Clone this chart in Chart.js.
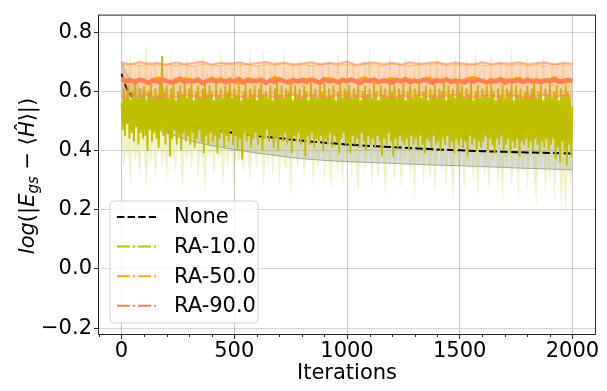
<!DOCTYPE html>
<html>
<head>
<meta charset="utf-8">
<script src="https://cdn.jsdelivr.net/npm/chart.js@4.4.1/dist/chart.umd.min.js"></script>
<style>
  html, body { margin: 0; padding: 0; background: #fff; }
  canvas { display: block; }
</style>
</head>
<body>
<canvas id="chart" width="607" height="391"></canvas>
<script>
// ---- data ----
const seriesNames = ['None', 'RA-10.0', 'RA-50.0', 'RA-90.0'];
const seriesColors = ['#000000', '#bfbf00', '#ffa500', '#ff7f50'];

const xTicks = [0, 500, 1000, 1500, 2000];
const yTicks = [-0.2, 0.0, 0.2, 0.4, 0.6, 0.8];

// None: mean and spread, sampled at these iterations
const noneIters = [0, 10, 20, 30, 50, 75, 100, 150, 200, 250, 300, 350, 400, 450, 500, 550, 600, 650, 700, 750,
  800, 850, 900, 950, 1000, 1100, 1200, 1300, 1400, 1500, 1600, 1700, 1800, 1900, 2000];
const noneMean = [0.66, 0.635, 0.615, 0.6, 0.58, 0.56, 0.545, 0.525, 0.508, 0.495, 0.485, 0.477, 0.47, 0.465, 0.46,
  0.455, 0.45, 0.446, 0.442, 0.438, 0.434, 0.43, 0.427, 0.424, 0.421, 0.416, 0.412, 0.408, 0.404, 0.401, 0.398,
  0.396, 0.394, 0.392, 0.39];
const noneLow = [0.56, 0.54, 0.53, 0.52, 0.51, 0.497, 0.488, 0.473, 0.46, 0.447, 0.435, 0.425, 0.417, 0.41, 0.404,
  0.398, 0.392, 0.387, 0.382, 0.377, 0.373, 0.37, 0.367, 0.365, 0.363, 0.36, 0.357, 0.354, 0.351, 0.349, 0.346,
  0.343, 0.34, 0.338, 0.335];
const noneHigh = [0.70, 0.68, 0.665, 0.65, 0.635, 0.615, 0.6, 0.577, 0.556, 0.543, 0.535, 0.529, 0.523, 0.52, 0.516,
  0.512, 0.508, 0.505, 0.502, 0.499, 0.495, 0.49, 0.487, 0.483, 0.479, 0.472, 0.467, 0.462, 0.457, 0.453, 0.45,
  0.449, 0.448, 0.446, 0.445];

// RA-10.0 curve, every 5 iterations
const ra10Step = 5;
const ra10Mean = [
  0.56, 0.47, 0.61, 0.45, 0.58, 0.49, 0.62, 0.44, 0.57, 0.46, 0.60, 0.43, 0.63, 0.48, 0.58, 0.42, 0.61, 0.46, 0.59, 0.44,
  0.62, 0.45, 0.57, 0.40, 0.60, 0.47, 0.63, 0.43, 0.58, 0.46, 0.61, 0.44, 0.59, 0.41, 0.64, 0.47, 0.72, 0.45, 0.60, 0.42,
  0.62, 0.46, 0.58, 0.38, 0.61, 0.44, 0.63, 0.47, 0.57, 0.42, 0.60, 0.45, 0.62, 0.40, 0.59, 0.46, 0.64, 0.43, 0.58, 0.45,
  0.61, 0.42, 0.63, 0.46, 0.57, 0.41, 0.60, 0.44, 0.62, 0.47, 0.58, 0.43, 0.61, 0.39, 0.64, 0.45, 0.59, 0.42, 0.62, 0.46,
  0.60, 0.43, 0.57, 0.45, 0.63, 0.39, 0.59, 0.44, 0.61, 0.46, 0.58, 0.41, 0.62, 0.45, 0.60, 0.43, 0.65, 0.47, 0.58, 0.42,
  0.61, 0.45, 0.59, 0.40, 0.62, 0.44, 0.57, 0.37, 0.60, 0.46, 0.63, 0.43, 0.58, 0.45, 0.61, 0.41, 0.59, 0.44, 0.62, 0.46,
  0.57, 0.42, 0.61, 0.45, 0.63, 0.40, 0.59, 0.44, 0.60, 0.47, 0.58, 0.43, 0.62, 0.45, 0.57, 0.41, 0.61, 0.44, 0.64, 0.40,
  0.59, 0.45, 0.62, 0.43, 0.58, 0.46, 0.61, 0.42, 0.60, 0.44, 0.63, 0.39, 0.57, 0.45, 0.62, 0.43, 0.59, 0.46, 0.61, 0.42,
  0.58, 0.44, 0.62, 0.38, 0.60, 0.45, 0.57, 0.42, 0.63, 0.46, 0.59, 0.41, 0.61, 0.44, 0.58, 0.43, 0.62, 0.45, 0.60, 0.40,
  0.63, 0.44, 0.58, 0.42, 0.61, 0.46, 0.59, 0.41, 0.62, 0.45, 0.57, 0.43, 0.60, 0.39, 0.63, 0.44, 0.58, 0.46, 0.61, 0.42,
  0.60, 0.43, 0.62, 0.39, 0.58, 0.45, 0.61, 0.42, 0.59, 0.44, 0.63, 0.41, 0.57, 0.46, 0.60, 0.43, 0.62, 0.40, 0.59, 0.45,
  0.61, 0.42, 0.58, 0.44, 0.63, 0.41, 0.60, 0.45, 0.57, 0.43, 0.62, 0.38, 0.59, 0.44, 0.61, 0.42, 0.58, 0.46, 0.63, 0.43,
  0.60, 0.38, 0.62, 0.44, 0.58, 0.41, 0.61, 0.45, 0.59, 0.43, 0.63, 0.42, 0.57, 0.44, 0.60, 0.40, 0.62, 0.45, 0.58, 0.42,
  0.61, 0.44, 0.59, 0.41, 0.63, 0.45, 0.58, 0.42, 0.60, 0.39, 0.62, 0.44, 0.57, 0.43, 0.61, 0.41, 0.59, 0.45, 0.62, 0.42,
  0.58, 0.43, 0.61, 0.40, 0.60, 0.44, 0.63, 0.42, 0.57, 0.45, 0.62, 0.41, 0.59, 0.43, 0.61, 0.39, 0.58, 0.44, 0.64, 0.42,
  0.60, 0.44, 0.62, 0.41, 0.58, 0.43, 0.61, 0.38, 0.59, 0.45, 0.63, 0.42, 0.57, 0.44, 0.60, 0.40, 0.62, 0.43, 0.58, 0.41,
  0.61, 0.43, 0.59, 0.45, 0.62, 0.40, 0.58, 0.44, 0.63, 0.42, 0.60, 0.39, 0.57, 0.44, 0.61, 0.42, 0.59, 0.45, 0.62, 0.40,
  0.58, 0.42, 0.61, 0.44, 0.60, 0.39, 0.63, 0.43, 0.57, 0.41, 0.62, 0.44, 0.59, 0.38, 0.61, 0.43, 0.58, 0.42, 0.60, 0.44,
  0.62, 0.41, 0.59, 0.43, 0.61, 0.40, 0.64, 0.44, 0.58, 0.42, 0.60, 0.39, 0.62, 0.43, 0.57, 0.41, 0.61, 0.44, 0.59, 0.40,
  0.63, 0.42, 0.58, 0.44, 0.60, 0.37, 0.62, 0.41, 0.57, 0.36, 0.61, 0.43, 0.59, 0.40, 0.62, 0.35, 0.60, 0.42, 0.58, 0.38,
  0.55];

// RA-10.0 spread, every 10 iterations
const ra10BandStep = 10;
const ra10High = [
  0.63, 0.70, 0.62, 0.66, 0.74, 0.61, 0.68, 0.63, 0.72, 0.62, 0.65, 0.77, 0.62, 0.69, 0.63, 0.71, 0.61, 0.66, 0.73, 0.62,
  0.68, 0.62, 0.75, 0.63, 0.66, 0.61, 0.71, 0.64, 0.62, 0.73, 0.63, 0.68, 0.61, 0.70, 0.65, 0.62, 0.74, 0.63, 0.67, 0.62,
  0.72, 0.61, 0.66, 0.63, 0.75, 0.62, 0.69, 0.64, 0.61, 0.71, 0.63, 0.67, 0.62, 0.73, 0.61, 0.68, 0.64, 0.76, 0.62, 0.66,
  0.63, 0.70, 0.62, 0.74, 0.64, 0.61, 0.69, 0.63, 0.72, 0.62, 0.66, 0.61, 0.75, 0.63, 0.68, 0.62, 0.71, 0.64, 0.61, 0.73,
  0.62, 0.67, 0.64, 0.71, 0.61, 0.74, 0.63, 0.66, 0.62, 0.70, 0.64, 0.61, 0.72, 0.63, 0.68, 0.62, 0.75, 0.61, 0.67, 0.63,
  0.70, 0.62, 0.66, 0.73, 0.61, 0.68, 0.64, 0.62, 0.71, 0.63, 0.76, 0.61, 0.67, 0.63, 0.72, 0.62, 0.65, 0.69, 0.61, 0.74,
  0.63, 0.68, 0.62, 0.71, 0.64, 0.61, 0.73, 0.62, 0.67, 0.63, 0.70, 0.61, 0.75, 0.64, 0.62, 0.69, 0.63, 0.72, 0.61, 0.66,
  0.74, 0.62, 0.68, 0.63, 0.71, 0.61, 0.66, 0.64, 0.73, 0.62, 0.69, 0.63, 0.61, 0.72, 0.64, 0.67, 0.62, 0.75, 0.63, 0.68,
  0.61, 0.70, 0.63, 0.66, 0.74, 0.62, 0.68, 0.61, 0.72, 0.64, 0.63, 0.69, 0.62, 0.76, 0.61, 0.67, 0.64, 0.71, 0.62, 0.65,
  0.73, 0.63, 0.68, 0.61, 0.70, 0.64, 0.62, 0.74, 0.63, 0.67, 0.61, 0.72, 0.64, 0.69, 0.62, 0.66, 0.71, 0.63, 0.68, 0.62,
  0.65];
const ra10Low = [
  0.41, 0.33, 0.40, 0.38, 0.28, 0.42, 0.36, 0.40, 0.31, 0.41, 0.39, 0.26, 0.40, 0.35, 0.42, 0.30, 0.39, 0.41, 0.34, 0.40,
  0.29, 0.41, 0.37, 0.40, 0.32, 0.42, 0.39, 0.27, 0.40, 0.36, 0.41, 0.33, 0.39, 0.42, 0.30, 0.40, 0.37, 0.25, 0.41, 0.38,
  0.40, 0.31, 0.42, 0.36, 0.39, 0.28, 0.41, 0.34, 0.40, 0.38, 0.26, 0.41, 0.35, 0.40, 0.32, 0.42, 0.37, 0.29, 0.40, 0.39,
  0.33, 0.41, 0.38, 0.27, 0.40, 0.35, 0.42, 0.31, 0.39, 0.40, 0.28, 0.41, 0.36, 0.33, 0.40, 0.24, 0.39, 0.41, 0.34, 0.38,
  0.41, 0.30, 0.39, 0.36, 0.42, 0.27, 0.40, 0.33, 0.38, 0.41, 0.29, 0.40, 0.35, 0.26, 0.41, 0.37, 0.32, 0.40, 0.28, 0.39,
  0.36, 0.41, 0.30, 0.40, 0.34, 0.25, 0.39, 0.41, 0.32, 0.38, 0.40, 0.27, 0.41, 0.35, 0.30, 0.40, 0.37, 0.24, 0.39, 0.33,
  0.41, 0.29, 0.38, 0.40, 0.26, 0.39, 0.35, 0.41, 0.31, 0.37, 0.23, 0.40, 0.34, 0.39, 0.28, 0.41, 0.36, 0.30, 0.40, 0.25,
  0.38, 0.41, 0.32, 0.39, 0.27, 0.40, 0.35, 0.22, 0.39, 0.37, 0.30, 0.41, 0.26, 0.38, 0.34, 0.40, 0.29, 0.39, 0.24, 0.37,
  0.40, 0.31, 0.38, 0.25, 0.39, 0.35, 0.41, 0.28, 0.37, 0.22, 0.39, 0.33, 0.40, 0.27, 0.36, 0.39, 0.23, 0.38, 0.31, 0.40,
  0.26, 0.37, 0.39, 0.30, 0.21, 0.38, 0.34, 0.40, 0.25, 0.36, 0.29, 0.39, 0.23, 0.35, 0.38, 0.20, 0.33, 0.18, 0.36, 0.27,
  0.34];

// RA-90.0 curve, every 20 iterations
const ra90Step = 20;
const ra90Mean = [
  0.642, 0.634, 0.638, 0.631, 0.640, 0.636, 0.629, 0.639, 0.633, 0.641,
  0.635, 0.630, 0.638, 0.643, 0.632, 0.637, 0.634, 0.640, 0.628, 0.636,
  0.639, 0.633, 0.641, 0.631, 0.637, 0.635, 0.642, 0.630, 0.638, 0.634,
  0.636, 0.640, 0.629, 0.637, 0.633, 0.641, 0.635, 0.631, 0.639, 0.634,
  0.638, 0.632, 0.640, 0.636, 0.630, 0.642, 0.634, 0.637, 0.631, 0.639,
  0.635, 0.641, 0.633, 0.629, 0.638, 0.636, 0.640, 0.632, 0.637, 0.634,
  0.630, 0.639, 0.635, 0.642, 0.631, 0.637, 0.633, 0.640, 0.636, 0.629,
  0.638, 0.634, 0.641, 0.632, 0.637, 0.635, 0.630, 0.639, 0.633, 0.640,
  0.636, 0.631, 0.638, 0.634, 0.642, 0.630, 0.637, 0.635, 0.639, 0.632,
  0.640, 0.634, 0.637, 0.631, 0.638, 0.635, 0.641, 0.633, 0.636, 0.639,
  0.635];

// RA-50.0 curve, every 40 iterations
const ra50Step = 40;
const ra50Mean = [
  0.645, 0.633, 0.641, 0.628, 0.647, 0.636, 0.631, 0.644, 0.638, 0.629,
  0.646, 0.634, 0.640, 0.627, 0.643, 0.637, 0.632, 0.648, 0.635, 0.630,
  0.642, 0.639, 0.628, 0.645, 0.633, 0.641, 0.636, 0.647, 0.630, 0.638,
  0.644, 0.632, 0.640, 0.629, 0.646, 0.635, 0.642, 0.631, 0.639, 0.648,
  0.634, 0.628, 0.643, 0.637, 0.645, 0.632, 0.640, 0.636, 0.647, 0.630,
  0.641];

// spreads of RA-50.0 and RA-90.0, every 40 iterations
const raBandStep = 40;
const ra90High = [
  0.698, 0.692, 0.700, 0.694, 0.697, 0.690, 0.699, 0.693, 0.696, 0.701,
  0.691, 0.697, 0.694, 0.699, 0.692, 0.696, 0.700, 0.693, 0.698, 0.691,
  0.695, 0.699, 0.692, 0.697, 0.694, 0.701, 0.690, 0.696, 0.698, 0.693,
  0.697, 0.691, 0.699, 0.694, 0.696, 0.700, 0.692, 0.698, 0.695, 0.691,
  0.699, 0.693, 0.697, 0.694, 0.700, 0.692, 0.696, 0.698, 0.691, 0.697,
  0.694];
const ra90Low = [
  0.580, 0.587, 0.582, 0.589, 0.578, 0.585, 0.581, 0.588, 0.584, 0.579,
  0.586, 0.583, 0.590, 0.580, 0.585, 0.582, 0.587, 0.578, 0.584, 0.589,
  0.581, 0.586, 0.583, 0.579, 0.588, 0.582, 0.585, 0.580, 0.587, 0.584,
  0.578, 0.586, 0.581, 0.589, 0.583, 0.580, 0.585, 0.588, 0.582, 0.579,
  0.586, 0.584, 0.581, 0.587, 0.583, 0.578, 0.585, 0.589, 0.582, 0.586,
  0.583];
const ra50High = [
  0.689, 0.694, 0.686, 0.692, 0.688, 0.695, 0.687, 0.691, 0.685, 0.693,
  0.690, 0.686, 0.694, 0.688, 0.692, 0.685, 0.691, 0.689, 0.695, 0.687,
  0.692, 0.686, 0.690, 0.694, 0.688, 0.691, 0.685, 0.693, 0.689, 0.687,
  0.694, 0.690, 0.686, 0.692, 0.688, 0.695, 0.687, 0.691, 0.689, 0.693,
  0.686, 0.690, 0.694, 0.688, 0.692, 0.687, 0.691, 0.685, 0.693, 0.689,
  0.690];
const ra50Low = [
  0.592, 0.587, 0.595, 0.589, 0.593, 0.586, 0.591, 0.596, 0.588, 0.594,
  0.590, 0.585, 0.593, 0.589, 0.596, 0.587, 0.592, 0.590, 0.586, 0.594,
  0.588, 0.593, 0.591, 0.585, 0.595, 0.589, 0.592, 0.587, 0.594, 0.590,
  0.586, 0.593, 0.588, 0.596, 0.591, 0.587, 0.594, 0.589, 0.592, 0.586,
  0.595, 0.590, 0.588, 0.593, 0.587, 0.591, 0.596, 0.589, 0.592, 0.588,
  0.591];

// ---- helpers ----
const stepPts = (step, vals) => vals.map((v, i) => ({ x: i * step, y: v }));
const iterPts = (iters, vals) => vals.map((v, i) => ({ x: iters[i], y: v }));

const FONT = "'DejaVu Sans', sans-serif";
const DASHED = [7.4, 3.2];
const DASHDOT = [12.8, 3.2, 2, 3.2];

function line(label, data, color, width, dash, order, extra) {
  return Object.assign({
    label: label, data: data, borderColor: color, borderWidth: width, borderDash: dash || [],
    pointRadius: 0, tension: 0, fill: false, order: order
  }, extra || {});
}

const datasets = [
  /* 0 */ line('None low', iterPts(noneIters, noneLow), 'rgba(120,122,135,0.7)', 1, null, 20),
  /* 1 */ line('None high', iterPts(noneIters, noneHigh), 'rgba(120,122,135,0.45)', 1, null, 19,
            { fill: { target: 0 }, backgroundColor: 'rgba(150,156,185,0.32)' }),
  /* 2 */ line('RA-10 low', stepPts(ra10BandStep, ra10Low), 'rgba(0,0,0,0)', 0, null, 18),
  /* 3 */ line('RA-10 high', stepPts(ra10BandStep, ra10High), 'rgba(0,0,0,0)', 0, null, 17,
            { fill: { target: 2 }, backgroundColor: 'rgba(191,191,0,0.22)' }),
  /* 4 */ line(seriesNames[0], iterPts(noneIters, noneMean), seriesColors[0], 2, DASHED, 16),
  /* 5 */ line(seriesNames[1], stepPts(ra10Step, ra10Mean), seriesColors[1], 1.8, null, 15),
  /* 6 */ line('RA-50 low', stepPts(raBandStep, ra50Low), 'rgba(255,165,0,0.4)', 1.5, null, 14),
  /* 7 */ line('RA-50 high', stepPts(raBandStep, ra50High), 'rgba(255,165,0,0.4)', 1.5, null, 13,
            { fill: { target: 6 }, backgroundColor: 'rgba(255,165,0,0.08)' }),
  /* 8 */ line('RA-90 low', stepPts(raBandStep, ra90Low), 'rgba(255,127,80,0.55)', 2, null, 12),
  /* 9 */ line('RA-90 high', stepPts(raBandStep, ra90High), 'rgba(255,127,80,0.55)', 2, null, 11,
            { fill: { target: 8 }, backgroundColor: 'rgba(255,127,80,0.25)' }),
  /* 10 */ line(seriesNames[2], stepPts(ra50Step, ra50Mean), seriesColors[2], 3, null, 10),
  /* 11 */ line(seriesNames[3], stepPts(ra90Step, ra90Mean), seriesColors[3], 4.5, null, 9)
];

const legendDash = [DASHED, DASHDOT, DASHDOT, DASHDOT];

// frame, minor ticks, legend and the y title
const decor = {
  id: 'decor',
  afterDraw(chart) {
    const { ctx, chartArea: a, scales: { x } } = chart;
    ctx.save();

    // axes frame
    ctx.strokeStyle = '#262626';
    ctx.lineWidth = 1;
    ctx.strokeRect(a.left - 0.5, a.top + 0.5, a.right - a.left + 1, a.bottom - a.top);

    // minor x ticks every 100
    for (let v = -100; v <= 2100; v += 100) {
      if (v % 500 === 0) continue;
      const px = Math.round(x.getPixelForValue(v)) + 0.5;
      if (px < a.left || px > a.right) continue;
      ctx.beginPath();
      ctx.moveTo(px, a.bottom);
      ctx.lineTo(px, a.bottom + 3);
      ctx.stroke();
    }

    // legend box
    const bx = 110, by = 201, bw = 148, bh = 122, r = 4;
    ctx.beginPath();
    ctx.moveTo(bx + r, by);
    ctx.arcTo(bx + bw, by, bx + bw, by + bh, r);
    ctx.arcTo(bx + bw, by + bh, bx, by + bh, r);
    ctx.arcTo(bx, by + bh, bx, by, r);
    ctx.arcTo(bx, by, bx + bw, by, r);
    ctx.closePath();
    ctx.fillStyle = 'rgba(255,255,255,0.8)';
    ctx.fill();
    ctx.strokeStyle = '#d0d0d0';
    ctx.stroke();

    ctx.font = '21px ' + FONT;
    ctx.textBaseline = 'middle';
    ctx.textAlign = 'left';
    seriesNames.forEach((name, i) => {
      const yy = 217 + i * 29.6;
      ctx.beginPath();
      ctx.setLineDash(legendDash[i]);
      ctx.strokeStyle = seriesColors[i];
      ctx.lineWidth = 2;
      ctx.moveTo(117, yy);
      ctx.lineTo(156, yy);
      ctx.stroke();
      ctx.setLineDash([]);
      ctx.fillStyle = '#000';
      ctx.fillText(name, 174, yy + 1);
    });

    // y title: log(|E_gs − ⟨Ĥ⟩|)
    const parts = [
      ['log', 'italic 21px', 0], ['(|', '21px', 0], ['E', 'italic 21px', 0],
      ['gs', 'italic 15px', 4], [' \u2212 ', '21px', 0], ['\u27E8', '21px', 0],
      ['\u0124', 'italic 21px', 0], ['\u27E9|)', '21px', 0]
    ];
    let total = 0;
    parts.forEach(p => { ctx.font = p[1] + ' ' + FONT; total += ctx.measureText(p[0]).width; });
    ctx.translate(34, 176);
    ctx.rotate(-Math.PI / 2);
    ctx.textBaseline = 'alphabetic';
    ctx.fillStyle = '#000';
    let cx = -total / 2;
    parts.forEach(p => {
      ctx.font = p[1] + ' ' + FONT;
      ctx.fillText(p[0], cx, p[2]);
      cx += ctx.measureText(p[0]).width;
    });
    ctx.restore();
  }
};

const fmt = v => (v < 0 ? '\u2212' : '') + Math.abs(v).toFixed(1);

new Chart(document.getElementById('chart').getContext('2d'), {
  type: 'line',
  data: { datasets: datasets },
  plugins: [decor],
  options: {
    responsive: false,
    animation: false,
    devicePixelRatio: 1,
    layout: { padding: { left: 0, top: 5, right: 12, bottom: 0 } },
    plugins: { legend: { display: false }, tooltip: { enabled: false } },
    scales: {
      x: {
        type: 'linear',
        min: -100,
        max: 2100,
        afterFit: s => { s.height = 57; },
        border: { display: false },
        grid: {
          color: c => (xTicks.includes(c.tick.value) ? 'rgba(176,176,176,0.7)' : 'rgba(0,0,0,0)'),
          tickColor: c => (xTicks.includes(c.tick.value) ? '#262626' : 'rgba(0,0,0,0)'),
          tickLength: 5,
          lineWidth: 1
        },
        ticks: {
          stepSize: 100,
          includeBounds: false,
          autoSkip: false,
          maxRotation: 0,
          padding: 0,
          color: '#000',
          font: { family: FONT, size: 21 },
          callback: v => (xTicks.includes(v) ? String(v) : '')
        },
        title: {
          display: true,
          text: 'Iterations',
          color: '#000',
          font: { family: FONT, size: 21 },
          padding: { top: 0, bottom: 5 }
        }
      },
      y: {
        type: 'linear',
        min: -0.22,
        max: 0.86,
        afterFit: s => { s.width = 99; },
        border: { display: false },
        grid: {
          color: 'rgba(176,176,176,0.55)',
          tickColor: '#262626',
          tickLength: 5,
          lineWidth: 1
        },
        ticks: {
          stepSize: 0.2,
          includeBounds: false,
          padding: 2,
          color: '#000',
          font: { family: FONT, size: 21 },
          callback: v => fmt(v)
        },
        afterBuildTicks: s => { s.ticks = yTicks.map(v => ({ value: v })); }
      }
    }
  }
});
</script>
</body>
</html>
